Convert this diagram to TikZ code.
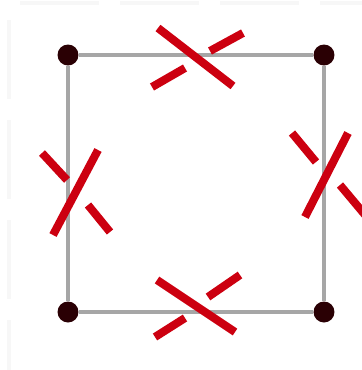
\documentclass[tikz,border=0pt]{standalone}
\usepackage{xcolor}
\definecolor{cutred}{HTML}{CC0010}
\definecolor{vertdark}{HTML}{2A0004}
\tikzset{
  vert/.style={circle, fill=vertdark, minimum size=0.42cm, inner sep=0pt},
  rim/.style={draw=black!35, line width=2.2pt},
  cut/.style={draw=cutred, line width=4.6pt},
  grid/.style={draw=black!3, line width=2.5pt, dash pattern=on 45pt off 12pt},
}
\begin{document}
\begin{tikzpicture}[x=0.02cm, y=-0.02cm]
  \useasboundingbox (0,0) rectangle (362,370);
  %% faint background grid
  \draw[grid] (20,3) -- (362,3);
  \draw[grid] (9,20) -- (9,370);
  %% square
  \node[vert] (tl) at (68,55)  {};
  \node[vert] (tr) at (324,55) {};
  \node[vert] (br) at (324,312) {};
  \node[vert] (bl) at (68,312) {};
  \foreach \a/\b in {tl/tr,tr/br,br/bl,bl/tl}
    \draw[rim] (\a) -- (\b);
  %% crossings on each side
  \foreach \xa/\ya/\xb/\yb in {158/28/233/86, 152/87/185/68, 210/51/243/33,
                               157/280/235/332, 155/337/185/318, 208/297/240/275,
                               98/150/53/235, 42/153/67/180, 88/205/110/232,
                               348/133/305/217, 292/133/316/162, 340/185/366/216}
    \draw[cut] (\xa,\ya) -- (\xb,\yb);
\end{tikzpicture}
\end{document}
